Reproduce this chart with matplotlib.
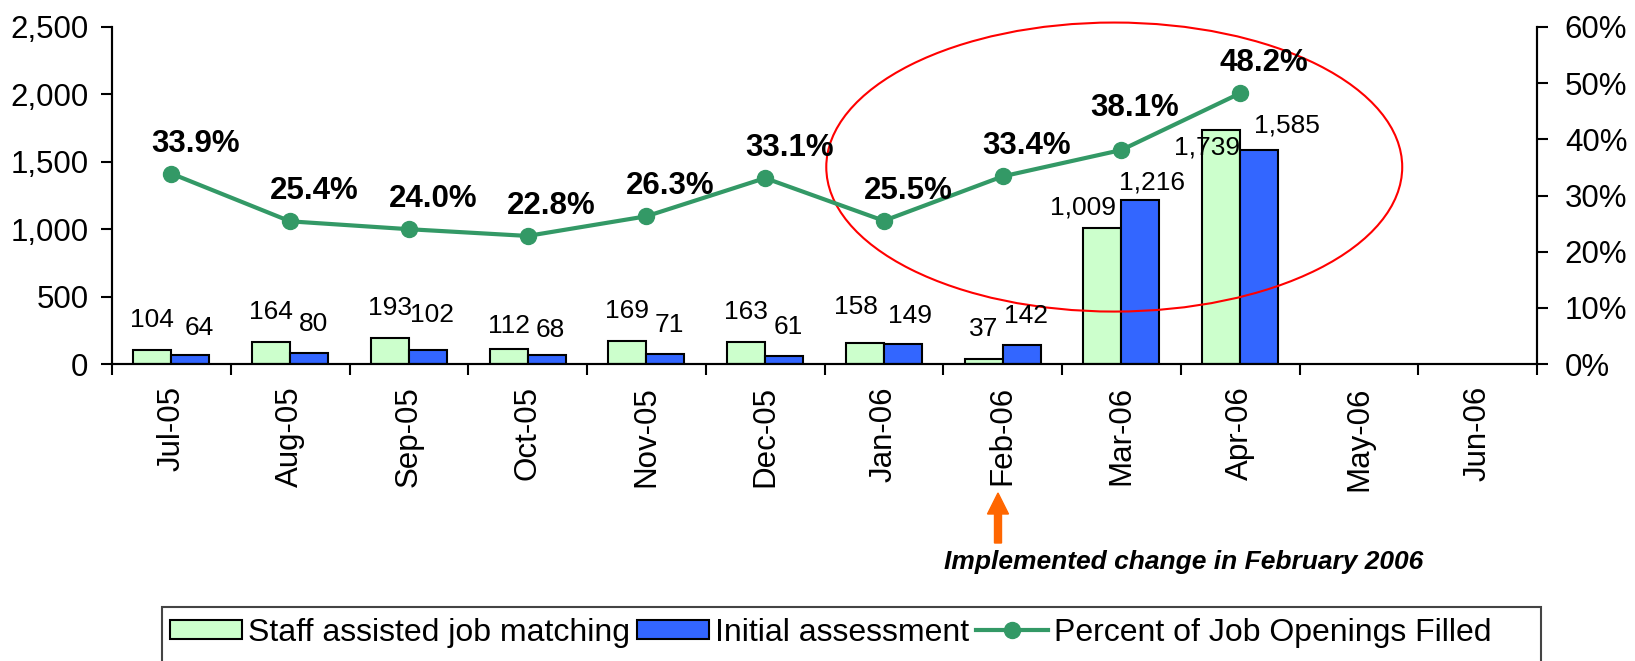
import numpy as np
import matplotlib
matplotlib.use("Agg")
import matplotlib.pyplot as plt
from matplotlib.patches import Ellipse, Rectangle, FancyArrow, Patch
from matplotlib.lines import Line2D
from matplotlib.ticker import FuncFormatter
import matplotlib.transforms as mtransforms

plt.rcParams['font.family'] = ['Liberation Sans', 'DejaVu Sans']

# ---- data -------------------------------------------------------------
months = ["Jul-05", "Aug-05", "Sep-05", "Oct-05", "Nov-05", "Dec-05",
          "Jan-06", "Feb-06", "Mar-06", "Apr-06", "May-06", "Jun-06"]
staff_assisted = [104, 164, 193, 112, 169, 163, 158, 37, 1009, 1739, np.nan, np.nan]
initial_assessment = [64, 80, 102, 68, 71, 61, 149, 142, 1216, 1585, np.nan, np.nan]
pct_filled = [33.9, 25.4, 24.0, 22.8, 26.3, 33.1, 25.5, 33.4, 38.1, 48.2, np.nan, np.nan]

left_ticks = [0, 500, 1000, 1500, 2000, 2500]
right_ticks = [0, 10, 20, 30, 40, 50, 60]

note_text = "Implemented change in February 2006"
legend_labels = ["Staff assisted job matching", "Initial assessment",
                 "Percent of Job Openings Filled"]

# ---- styling ----------------------------------------------------------
GREEN_BAR = "#CCFFCC"
BLUE_BAR = "#3366FF"
LINE_GREEN = "#339966"
PX = 0.72  # points per pixel at 100 dpi

W, H = 1635, 661
fig = plt.figure(figsize=(W / 100, H / 100), dpi=100)
ax = fig.add_axes([112 / W, 1 - 364 / H, (1537 - 112) / W, (364 - 27) / H])
ax2 = ax.twinx()

x = np.arange(len(months))
bw = 0.32

ax.bar(x - bw / 2, staff_assisted, width=bw, color=GREEN_BAR,
       edgecolor="black", linewidth=1.5, zorder=2)
ax.bar(x + bw / 2, initial_assessment, width=bw, color=BLUE_BAR,
       edgecolor="black", linewidth=1.5, zorder=2)

ax.set_xlim(-0.5, len(months) - 0.5)
ax.set_ylim(0, 2500)
ax2.set_ylim(0, 60)

# value labels over the bars (offsets in pixels)
bar_offsets = {
    ("i", 0): (9, 27),
    ("i", 2): (4, 35),
    ("s", 3): (0, 23), ("i", 3): (4, 25),
    ("s", 6): (-9, 36), ("i", 6): (7, 28),
    ("s", 8): (-19, 20), ("i", 8): (12, 18),
    ("s", 9): (-14, -18), ("i", 9): (28, 25),
}
for i, v in enumerate(staff_assisted):
    if np.isnan(v):
        continue
    dx, dy = bar_offsets.get(("s", i), (0, 30))
    ax.annotate(f"{int(v):,}", xy=(x[i] - bw / 2, v), xytext=(dx * PX, dy * PX),
                textcoords="offset points", ha="center", va="center",
                fontsize=19, zorder=5)
for i, v in enumerate(initial_assessment):
    if np.isnan(v):
        continue
    dx, dy = bar_offsets.get(("i", i), (4, 29))
    ax.annotate(f"{int(v):,}", xy=(x[i] + bw / 2, v), xytext=(dx * PX, dy * PX),
                textcoords="offset points", ha="center", va="center",
                fontsize=19, zorder=5)

# percent line
ax2.plot(x, pct_filled, color=LINE_GREEN, linewidth=3, marker="o",
         markersize=11.5, zorder=4)
pct_offsets = {8: (13, 42)}
for i, v in enumerate(pct_filled):
    if np.isnan(v):
        continue
    dx, dy = pct_offsets.get(i, (24, 30))
    ax2.annotate(f"{v:.1f}%", xy=(x[i], v), xytext=(dx * PX, dy * PX),
                 textcoords="offset points", ha="center", va="center",
                 fontsize=22.5, fontweight="bold", zorder=6)

# axes styling
for a in (ax, ax2):
    a.spines["top"].set_visible(False)
    for s in ("left", "right", "bottom"):
        a.spines[s].set_linewidth(1.5)
ax.set_xticks(np.arange(-0.5, len(months), 1.0))
ax.set_xticklabels([])
ax.set_xticks(x, minor=True)
ax.set_xticklabels(months, minor=True, rotation=90, fontsize=22.5)
ax.tick_params(axis="x", which="major", direction="out", length=8, width=1.5)
ax.tick_params(axis="x", which="minor", length=0, pad=16)

ax.set_yticks(left_ticks)
ax.yaxis.set_major_formatter(FuncFormatter(lambda v, p: f"{int(v):,}"))
ax.tick_params(axis="y", direction="out", length=8, width=1.5, labelsize=22.5, pad=9)

ax2.set_yticks(right_ticks)
ax2.yaxis.set_major_formatter(FuncFormatter(lambda v, p: f"{int(v)}%"))
ax2.tick_params(axis="y", direction="out", length=8, width=1.5, labelsize=22.5, pad=12)

# highlight ellipse around the recent months
ell = Ellipse((7.94, 1461), width=4.85, height=2144, fill=False,
              edgecolor="red", linewidth=1.5, clip_on=False, zorder=3)
ax.add_patch(ell)

# arrow and note under Feb-06
arrow = FancyArrow(998, H - 543, 0, 50, width=7, head_width=21,
                   head_length=21, length_includes_head=True,
                   color="#FF6600", transform=mtransforms.IdentityTransform())
fig.patches.append(arrow)
fig.text(944 / W, 1 - 562 / H, note_text, fontsize=19, fontweight="bold",
         fontstyle="italic", ha="left", va="center")

# legend
handles = [
    Patch(facecolor=GREEN_BAR, edgecolor="black", linewidth=1.5),
    Patch(facecolor=BLUE_BAR, edgecolor="black", linewidth=1.5),
    Line2D([], [], color=LINE_GREEN, linewidth=3, marker="o", markersize=11.5),
]
fig.legend(handles, legend_labels, loc="center left",
           bbox_to_anchor=(170 / W, 1 - 633 / H), ncol=3, frameon=False,
           fontsize=23, handlelength=2.25, handleheight=0.56,
           handletextpad=0.19, columnspacing=0.22, borderpad=0,
           borderaxespad=0)
fig.patches.append(Rectangle((162 / W, -20 / H), (1541 - 162) / W, (H + 20 - 607) / H,
                             transform=fig.transFigure, fill=False,
                             edgecolor="#444444", linewidth=1.5))

fig.savefig("out.png", dpi=100)
